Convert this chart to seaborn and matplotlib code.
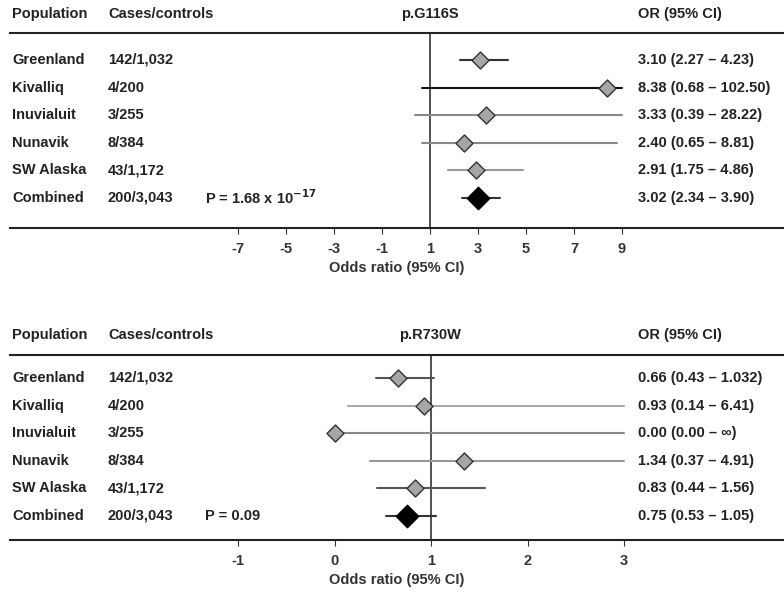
import matplotlib
matplotlib.use("Agg")
import matplotlib.pyplot as plt
import matplotlib.transforms as mtrans
import seaborn as sns
import pandas as pd

sns.set_style("white")
plt.rcParams['font.family'] = ['Liberation Sans', 'DejaVu Sans']
plt.rcParams['font.weight'] = 'bold'

populations = ["Greenland", "Kivalliq", "Inuvialuit", "Nunavik", "SW Alaska", "Combined"]
cases = ["142/1,032", "4/200", "3/255", "8/384", "43/1,172", "200/3,043"]

g_or = [3.10, 8.38, 3.33, 2.40, 2.91, 3.02]
g_lo = [2.27, 0.68, 0.39, 0.65, 1.75, 2.34]
g_hi = [4.23, 102.50, 28.22, 8.81, 4.86, 3.90]
g_lab = ["3.10 (2.27 – 4.23)", "8.38 (0.68 – 102.50)", "3.33 (0.39 – 28.22)",
         "2.40 (0.65 – 8.81)", "2.91 (1.75 – 4.86)", "3.02 (2.34 – 3.90)"]
g_ticks = [-7, -5, -3, -1, 1, 3, 5, 7, 9]

r_or = [0.66, 0.93, 0.00, 1.34, 0.83, 0.75]
r_lo = [0.43, 0.14, 0.00, 0.37, 0.44, 0.53]
r_hi = [1.032, 6.41, float("inf"), 4.91, 1.56, 1.05]
r_lab = ["0.66 (0.43 – 1.032)", "0.93 (0.14 – 6.41)", "0.00 (0.00 – ∞)",
         "1.34 (0.37 – 4.91)", "0.83 (0.44 – 1.56)", "0.75 (0.53 – 1.05)"]
r_ticks = [-1, 0, 1, 2, 3]

W, H = 784, 593
FS = 10.5
fig = plt.figure(figsize=(W/100, H/100), dpi=100)

def panel(top_px, bot_px, row0_px, xmin, xmax, xclip, ors, los, his, labs, ticks,
          title, pval, gcol, hdr_px):
    ax = fig.add_axes([10/W, 1-bot_px/H, (W-10)/W, (bot_px-top_px)/H])
    step = 27.6
    ymin = -(row0_px - top_px)/step
    ymax = (bot_px - row0_px)/step
    ax.set_xlim(xmin, xmax)
    ax.set_ylim(ymax, ymin)
    for s in ["left", "right"]:
        ax.spines[s].set_visible(False)
    for s in ["top", "bottom"]:
        ax.spines[s].set_linewidth(1.5)
        ax.spines[s].set_color("#222222")
    ax.set_yticks([])
    ax.set_xticks(ticks)
    ax.set_xticklabels([str(t) for t in ticks], fontsize=FS, fontweight='bold', color="#333333")
    ax.tick_params(axis='x', bottom=True, length=4, color="#333333", pad=6)
    ax.set_xlabel("Odds ratio (95% CI)", fontsize=FS, fontweight='bold', color="#333333", labelpad=4)
    ax.axvline(1, color="#333333", lw=1.2, zorder=1)
    for i in range(6):
        lo = max(los[i], -100)
        hi = min(his[i], xclip)
        ax.plot([lo, hi], [i, i], color=gcol[i], lw=1.5, zorder=2)
    df = pd.DataFrame({"x": ors, "y": list(range(6)), "kind": ["pop"]*5 + ["comb"]})
    sub = df[df.kind == "pop"]
    sns.scatterplot(data=sub, x="x", y="y", marker="D", s=75, color="#a6a6a6",
                    edgecolor="#333333", linewidth=1.0, ax=ax, zorder=3, legend=False)
    sub = df[df.kind == "comb"]
    sns.scatterplot(data=sub, x="x", y="y", marker="D", s=130, color="black",
                    edgecolor="black", linewidth=1.0, ax=ax, zorder=3, legend=False)
    ax.set_ylabel("")
    tr = mtrans.blended_transform_factory(fig.transFigure, ax.transData)
    kw = dict(fontsize=FS, fontweight='bold', color="#222222", va='center', transform=tr)
    for i in range(6):
        ax.text(12/W, i, populations[i], **kw)
        ax.text(108/W, i, cases[i], **kw)
        ax.text(638/W, i, labs[i], **kw)
    ax.text(205/W, 5, pval, **kw)
    hy = -(row0_px - hdr_px)/step
    ax.text(12/W, hy, "Population", **kw)
    ax.text(108/W, hy, "Cases/controls", **kw)
    ax.text(638/W, hy, "OR (95% CI)", **kw)
    ax.text(430/W, hy, title, ha='center', **kw)
    for t in ax.texts:
        t.set_clip_on(False)
    return ax

ppu = 24.0
panel(33, 228, 60, 1-420/ppu, 1+354/ppu, 9, g_or, g_lo, g_hi, g_lab, g_ticks,
      "p.G116S", r"P = 1.68 x 10$^{\mathbf{-17}}$",
      ["#333333", "#111111", "#888888", "#888888", "#999999", "#333333"], 14)
ppu = 96.5
panel(355, 540, 378, 1-421/ppu, 1+353/ppu, 3, r_or, r_lo, r_hi, r_lab, r_ticks,
      "p.R730W", "P = 0.09",
      ["#555555", "#aaaaaa", "#888888", "#999999", "#555555", "#333333"], 335)

fig.savefig("out.png", dpi=100)
